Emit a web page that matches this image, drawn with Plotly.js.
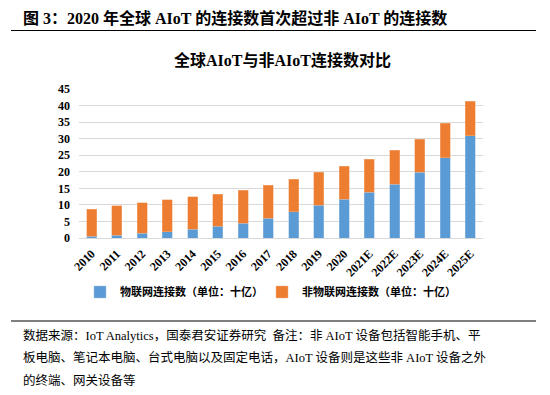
<!DOCTYPE html>
<html>
<head>
<meta charset="utf-8">
<script src="https://cdn.plot.ly/plotly-3.0.1.min.js"></script>
<style>html,body{margin:0;padding:0;background:#fff;}#chart{width:550px;height:395px;}</style>
</head>
<body>
<div id="chart"></div>
<script>
// ---- data ----
const years = ["2010","2011","2012","2013","2014","2015","2016","2017","2018","2019","2020","2021E","2022E","2023E","2024E","2025E"];
const iotConnections = [0.6, 0.9, 1.4, 1.9, 2.6, 3.5, 4.4, 6.0, 8.0, 9.9, 11.7, 13.8, 16.3, 19.8, 24.3, 30.9];
const nonIotConnections = [8.1, 8.8, 9.2, 9.7, 9.9, 9.7, 10.0, 9.9, 9.8, 10.0, 9.9, 10.0, 10.2, 10.1, 10.3, 10.4];
const seriesNames = ["物联网连接数（单位：十亿）", "非物联网连接数（单位：十亿）"];
const yTicks = [0, 5, 10, 15, 20, 25, 30, 35, 40, 45];

const FONT = "'Liberation Serif', 'Times New Roman', 'Noto Sans CJK SC', serif";
const W = 550, H = 395, ML = 79, MR = 67, MT = 89, MB = 157;
const PW = W - ML - MR, PH = H - MT - MB;
const px = x => (x - ML) / PW;
const py = y => (H - MB - y) / PH;

const traces = [
  {type: 'bar', x: years, y: iotConnections, name: seriesNames[0], legend: 'legend',
   marker: {color: '#5B9BD5', line: {color: '#9DC3E6', width: 0.5}}},
  {type: 'bar', x: years, y: nonIotConnections, name: seriesNames[1], legend: 'legend2',
   marker: {color: '#ED7D31', line: {color: '#F4B183', width: 0.5}}}
];

const ann = (x, y, text, size, opts) => Object.assign({
  xref: 'paper', yref: 'paper', x: px(x), y: py(y), text: text, showarrow: false,
  xanchor: 'left', yanchor: 'middle', font: {family: FONT, size: size, color: '#000'}
}, opts || {});

const legendStyle = (x) => ({
  orientation: 'h', xref: 'container', yref: 'container', x: x / W, y: (H - 292) / H,
  xanchor: 'left', yanchor: 'middle', bgcolor: 'rgba(0,0,0,0)',
  font: {family: FONT, size: 11, color: '#000', weight: 'bold'}
});

const layout = {
  width: W, height: H,
  margin: {l: ML, r: MR, t: MT, b: MB, pad: 0},
  paper_bgcolor: '#fff', plot_bgcolor: '#fff',
  barmode: 'stack', bargap: 0.6,
  font: {family: FONT, color: '#000'},
  xaxis: {type: 'category', tickangle: -45, showgrid: false, showline: true, linecolor: '#D9D9D9', linewidth: 1,
          ticks: '', ticklabelstandoff: 3, tickfont: {family: FONT, size: 12, color: '#000', weight: 'bold'}, fixedrange: true},
  yaxis: {range: [0, 45], tickvals: yTicks, showgrid: true, gridcolor: '#D9D9D9', gridwidth: 1, zeroline: false,
          showline: false, ticks: '', ticklabelstandoff: 8, tickfont: {family: FONT, size: 12, color: '#000', weight: 'bold'}, fixedrange: true},
  showlegend: true,
  legend: legendStyle(80),
  legend2: legendStyle(262),
  shapes: [
    {type: 'line', xref: 'paper', yref: 'paper', x0: px(11), x1: px(536), y0: py(30.5), y1: py(30.5), line: {color: '#000', width: 1.2}},
    {type: 'line', xref: 'paper', yref: 'paper', x0: px(11), x1: px(536), y0: py(321), y1: py(321), line: {color: '#000', width: 1.2}}
  ],
  annotations: [
    ann(21, 18, '<b>图 3：2020 年全球 AIoT 的连接数首次超过非 AIoT 的连接数</b>', 16),
    ann(282, 60, '<b>全球AIoT与非AIoT连接数对比</b>', 16, {xanchor: 'center'}),
    ann(21, 335, '数据来源：IoT Analytics，国泰君安证券研究  备注：非 AIoT 设备包括智能手机、平', 12.5),
    ann(21, 357, '板电脑、笔记本电脑、台式电脑以及固定电话，AIoT 设备则是这些非 AIoT 设备之外', 12.5),
    ann(21, 380, '的终端、网关设备等', 12.5)
  ]
};

Plotly.newPlot('chart', traces, layout, {displayModeBar: false, staticPlot: true});
</script>
</body>
</html>
